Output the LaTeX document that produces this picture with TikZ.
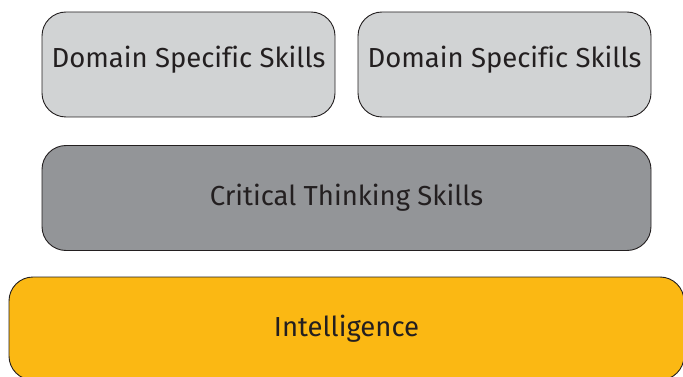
\documentclass[tikz,border=0pt]{standalone}
\usepackage{fontspec}
\setmainfont{Fira Sans}[Ligatures=NoCommon]
\usetikzlibrary{positioning}

\definecolor{skillgray}{HTML}{D1D3D4}
\definecolor{thinkgray}{HTML}{939598}
\definecolor{iqyellow}{HTML}{FBB813}
\definecolor{ink}{HTML}{231F20}

\tikzset{
  block/.style={rectangle, rounded corners=24pt, draw=ink, line width=0.9pt,
    text=ink, inner sep=0pt, font=\fontsize{27.5}{32}\selectfont,
    text height=19pt, text depth=0pt},
}

\begin{document}
\begin{tikzpicture}[x=1pt, y=-1pt]
\useasboundingbox (0,0) rectangle (683,377);
\path (188.5,64.5) node[block, fill=skillgray, minimum width=293pt, minimum height=105pt, text depth=12pt] (dss1) {Domain Specific Skills}
(504.5,64.5) node[block, fill=skillgray, minimum width=293pt, minimum height=105pt, text depth=12pt] (dss2) {Domain Specific Skills}
(346.5,198) node[block, fill=thinkgray, minimum width=609pt, minimum height=105pt, text depth=4pt] (cts) {Critical Thinking Skills}
(346.5,328.5) node[block, fill=iqyellow, minimum width=675pt, minimum height=103pt, text depth=3pt] (intel) {Intelligence};
\end{tikzpicture}
\end{document}
